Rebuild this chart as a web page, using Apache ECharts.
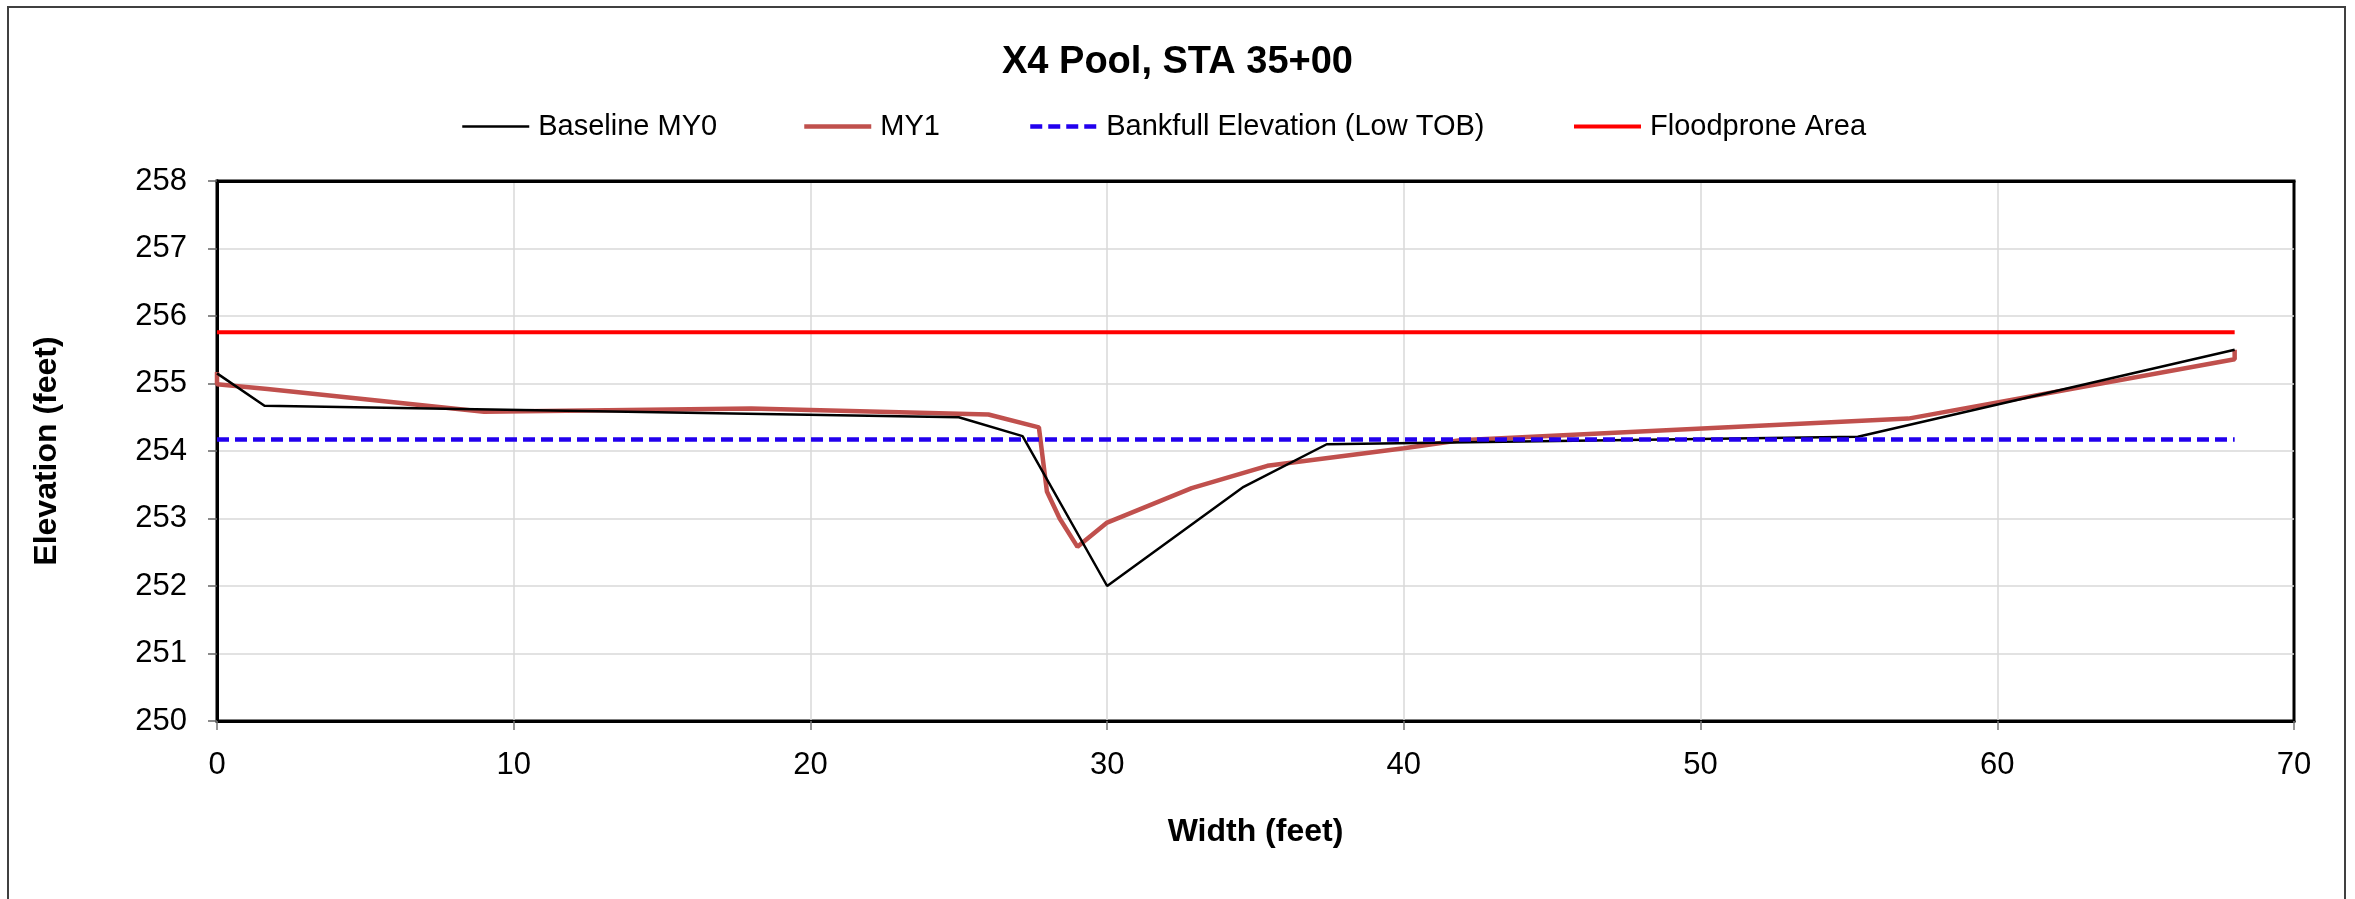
<!DOCTYPE html>
<html>
<head>
<meta charset="utf-8">
<script src="https://cdn.jsdelivr.net/npm/echarts@6/dist/echarts.min.js"></script>
<style>
html,body{margin:0;padding:0;background:#fff;}
#chart{width:2355px;height:899px;}
</style>
</head>
<body>
<div id="chart"></div>
<script>
// ---- data ----
var chartTitle = 'X4 Pool, STA 35+00';
var seriesNames = ['Baseline MY0', 'MY1', 'Bankfull Elevation (Low TOB)', 'Floodprone Area'];

var baselineX = [0, 1.6, 25.0, 27.15, 30.0, 34.6, 37.4, 55.3, 68.0];
var baselineY = [255.15, 254.67, 254.50, 254.22, 252.00, 253.47, 254.10, 254.21, 255.50];

var my1X = [0, 0, 1.7, 9.0, 18.0, 26.0, 27.7, 27.97, 28.4, 29.0, 30.0, 32.85, 35.4, 40.0, 41.9, 57.0, 68.0, 68.0];
var my1Y = [255.17, 254.99, 254.92, 254.58, 254.63, 254.54, 254.35, 253.40, 253.00, 252.58, 252.94, 253.45, 253.78, 254.04, 254.16, 254.48, 255.36, 255.50];

var bankfullX = [0, 68];
var bankfullY = [254.17, 254.17];

var floodX = [0, 68];
var floodY = [255.76, 255.76];

var xTicks = [0, 10, 20, 30, 40, 50, 60, 70];
var yTicks = [250, 251, 252, 253, 254, 255, 256, 257, 258];

function pairs(xs, ys) {
  var out = [];
  for (var i = 0; i < xs.length; i++) out.push([xs[i], ys[i]]);
  return out;
}

var FONT = '"Liberation Sans", Arial, sans-serif';
var chart = echarts.init(document.getElementById('chart'), null, {renderer: 'canvas'});

var colors = ['#000000', '#C0504D', '#2200EE', '#FF0000'];
var widths = [2.5, 4.5, 4.5, 4];
var legendLefts = [461, 802, 1028, 1572];
var legends = seriesNames.map(function (n, i) {
  return {
    orient: 'horizontal', top: 112, left: legendLefts[i], padding: 0,
    itemWidth: 67, itemHeight: 14, itemGap: 0,
    itemStyle: {opacity: 0},
    lineStyle: {width: widths[i]},
    textStyle: {fontFamily: FONT, fontSize: 29, color: '#000', padding: [0, 0, 0, 4]},
    data: [n]
  };
});

var hiddenAxisCommon = {
  axisLabel: {show: false}, axisTick: {show: false}, splitLine: {show: false},
  axisLine: {show: true, lineStyle: {color: '#000', width: 3}}
};

chart.setOption({
  animation: false,
  backgroundColor: '#ffffff',
  title: {
    text: chartTitle, left: 'center', top: 39,
    textStyle: {fontFamily: FONT, fontSize: 38, fontWeight: 'bold', color: '#000'}
  },
  legend: legends,
  graphic: [{
    type: 'rect', silent: true, z: -10,
    shape: {x: 8, y: 7, width: 2337, height: 1000},
    style: {fill: 'none', stroke: '#404040', lineWidth: 2}
  }],
  grid: {
    left: 217, top: 181, right: 61, bottom: 178,
    show: true, borderColor: '#000', borderWidth: 3, backgroundColor: 'transparent'
  },
  xAxis: [{
    type: 'value', min: xTicks[0], max: xTicks[xTicks.length - 1], interval: 10,
    name: 'Width (feet)', nameLocation: 'middle', nameGap: 95,
    nameTextStyle: {fontFamily: FONT, fontSize: 32, fontWeight: 'bold', color: '#000'},
    axisLine: {show: true, lineStyle: {color: '#000', width: 3}},
    axisTick: {show: true, inside: false, length: 9, lineStyle: {color: '#777', width: 1.5}},
    axisLabel: {fontFamily: FONT, fontSize: 31, color: '#000', margin: 29},
    splitLine: {show: true, showMaxLine: false, lineStyle: {color: '#D9D9D9', width: 1.5}}
  }, Object.assign({
    type: 'value', position: 'top', min: xTicks[0], max: xTicks[xTicks.length - 1], interval: 10
  }, hiddenAxisCommon)],
  yAxis: [{
    type: 'value', min: yTicks[0], max: yTicks[yTicks.length - 1], interval: 1,
    name: 'Elevation (feet)', nameLocation: 'middle', nameGap: 154,
    nameTextStyle: {fontFamily: FONT, fontSize: 32, fontWeight: 'bold', color: '#000'},
    axisLine: {show: true, lineStyle: {color: '#000', width: 3}},
    axisTick: {show: true, inside: false, length: 9, lineStyle: {color: '#666', width: 1.5}},
    axisLabel: {fontFamily: FONT, fontSize: 31, color: '#000', margin: 30},
    splitLine: {show: true, showMaxLine: false, lineStyle: {color: '#D9D9D9', width: 1.5}}
  }, Object.assign({
    type: 'value', position: 'right', min: yTicks[0], max: yTicks[yTicks.length - 1], interval: 1
  }, hiddenAxisCommon)],
  series: [
    {
      name: seriesNames[0], type: 'line', data: pairs(baselineX, baselineY),
      symbol: 'none', z: 4,
      lineStyle: {color: colors[0], width: widths[0]}, itemStyle: {color: colors[0]}
    },
    {
      name: seriesNames[1], type: 'line', data: pairs(my1X, my1Y),
      symbol: 'none', z: 3,
      lineStyle: {color: colors[1], width: widths[1]}, itemStyle: {color: colors[1]}
    },
    {
      name: seriesNames[2], type: 'line', data: pairs(bankfullX, bankfullY),
      symbol: 'none', z: 5,
      lineStyle: {color: colors[2], width: widths[2], type: [12, 6]}, itemStyle: {color: colors[2]}
    },
    {
      name: seriesNames[3], type: 'line', data: pairs(floodX, floodY),
      symbol: 'none', z: 2,
      lineStyle: {color: colors[3], width: widths[3]}, itemStyle: {color: colors[3]}
    }
  ]
});
</script>
</body>
</html>
